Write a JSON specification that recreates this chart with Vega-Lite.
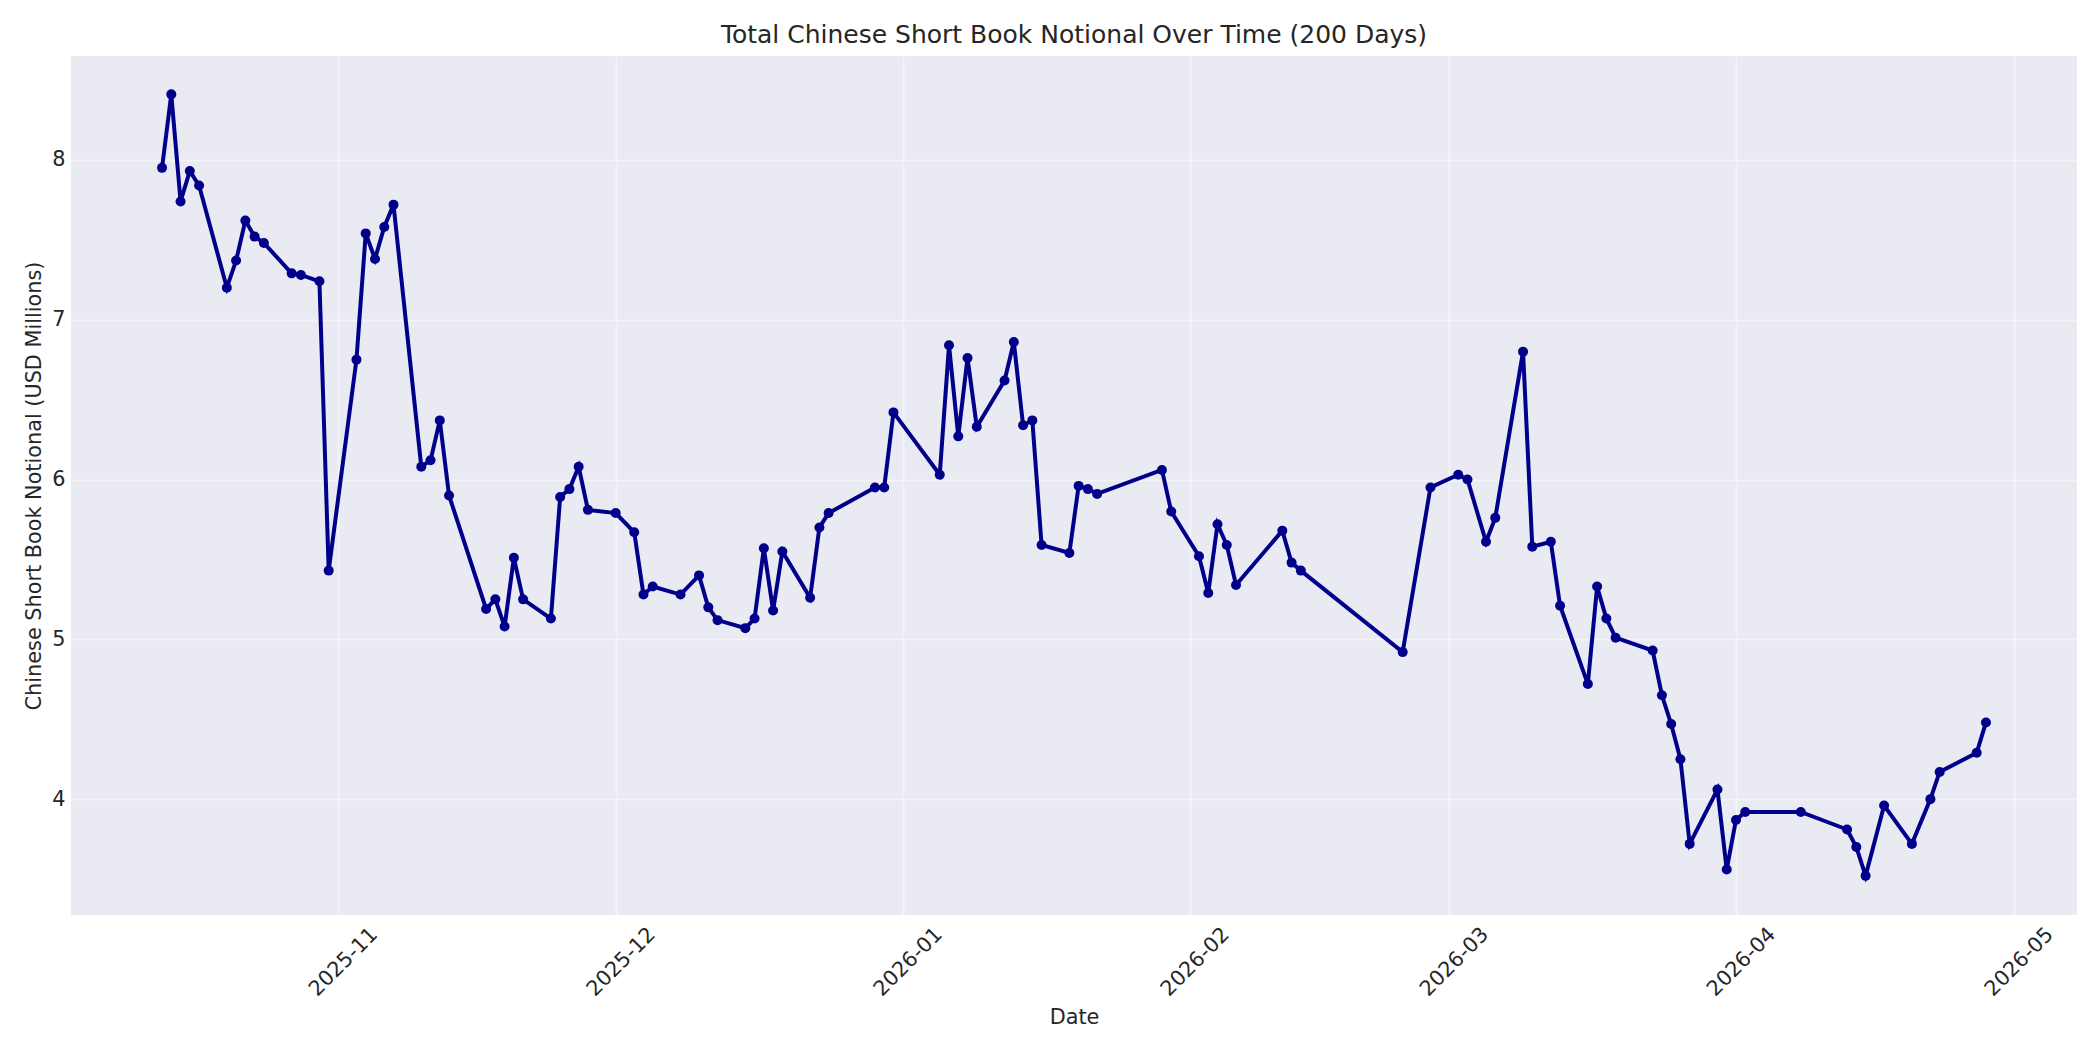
{
  "$schema": "https://vega.github.io/schema/vega-lite/v6.json",
  "autosize": {"type": "none"},
  "padding": {"left": 71, "top": 56, "right": 23, "bottom": 135},
  "width": 2006,
  "height": 859,
  "background": "white",
  "title": {
    "text": "Total Chinese Short Book Notional Over Time (200 Days)",
    "fontSize": 25,
    "font": "DejaVu Sans",
    "fontWeight": "normal",
    "color": "#262626",
    "anchor": "middle",
    "baseline": "bottom",
    "offset": -17
  },
  "data": {
    "values": [
      {"date": "2025-10-13", "notional": 7.95},
      {"date": "2025-10-14", "notional": 8.41},
      {"date": "2025-10-15", "notional": 7.74},
      {"date": "2025-10-16", "notional": 7.93},
      {"date": "2025-10-17", "notional": 7.84},
      {"date": "2025-10-20", "notional": 7.20},
      {"date": "2025-10-21", "notional": 7.37},
      {"date": "2025-10-22", "notional": 7.62},
      {"date": "2025-10-23", "notional": 7.52},
      {"date": "2025-10-24", "notional": 7.48},
      {"date": "2025-10-27", "notional": 7.29},
      {"date": "2025-10-28", "notional": 7.28},
      {"date": "2025-10-30", "notional": 7.24},
      {"date": "2025-10-31", "notional": 5.43},
      {"date": "2025-11-03", "notional": 6.75},
      {"date": "2025-11-04", "notional": 7.54},
      {"date": "2025-11-05", "notional": 7.38},
      {"date": "2025-11-06", "notional": 7.58},
      {"date": "2025-11-07", "notional": 7.72},
      {"date": "2025-11-10", "notional": 6.08},
      {"date": "2025-11-11", "notional": 6.12},
      {"date": "2025-11-12", "notional": 6.37},
      {"date": "2025-11-13", "notional": 5.90},
      {"date": "2025-11-17", "notional": 5.19},
      {"date": "2025-11-18", "notional": 5.25},
      {"date": "2025-11-19", "notional": 5.08},
      {"date": "2025-11-20", "notional": 5.51},
      {"date": "2025-11-21", "notional": 5.25},
      {"date": "2025-11-24", "notional": 5.13},
      {"date": "2025-11-25", "notional": 5.89},
      {"date": "2025-11-26", "notional": 5.94},
      {"date": "2025-11-27", "notional": 6.08},
      {"date": "2025-11-28", "notional": 5.81},
      {"date": "2025-12-01", "notional": 5.79},
      {"date": "2025-12-03", "notional": 5.67},
      {"date": "2025-12-04", "notional": 5.28},
      {"date": "2025-12-05", "notional": 5.33},
      {"date": "2025-12-08", "notional": 5.28},
      {"date": "2025-12-10", "notional": 5.40},
      {"date": "2025-12-11", "notional": 5.20},
      {"date": "2025-12-12", "notional": 5.12},
      {"date": "2025-12-15", "notional": 5.07},
      {"date": "2025-12-16", "notional": 5.13},
      {"date": "2025-12-17", "notional": 5.57},
      {"date": "2025-12-18", "notional": 5.18},
      {"date": "2025-12-19", "notional": 5.55},
      {"date": "2025-12-22", "notional": 5.26},
      {"date": "2025-12-23", "notional": 5.70},
      {"date": "2025-12-24", "notional": 5.79},
      {"date": "2025-12-29", "notional": 5.95},
      {"date": "2025-12-30", "notional": 5.95},
      {"date": "2025-12-31", "notional": 6.42},
      {"date": "2026-01-05", "notional": 6.03},
      {"date": "2026-01-06", "notional": 6.84},
      {"date": "2026-01-07", "notional": 6.27},
      {"date": "2026-01-08", "notional": 6.76},
      {"date": "2026-01-09", "notional": 6.33},
      {"date": "2026-01-12", "notional": 6.62},
      {"date": "2026-01-13", "notional": 6.86},
      {"date": "2026-01-14", "notional": 6.34},
      {"date": "2026-01-15", "notional": 6.37},
      {"date": "2026-01-16", "notional": 5.59},
      {"date": "2026-01-19", "notional": 5.54},
      {"date": "2026-01-20", "notional": 5.96},
      {"date": "2026-01-21", "notional": 5.94},
      {"date": "2026-01-22", "notional": 5.91},
      {"date": "2026-01-29", "notional": 6.06},
      {"date": "2026-01-30", "notional": 5.80},
      {"date": "2026-02-02", "notional": 5.52},
      {"date": "2026-02-03", "notional": 5.29},
      {"date": "2026-02-04", "notional": 5.72},
      {"date": "2026-02-05", "notional": 5.59},
      {"date": "2026-02-06", "notional": 5.34},
      {"date": "2026-02-11", "notional": 5.68},
      {"date": "2026-02-12", "notional": 5.48},
      {"date": "2026-02-13", "notional": 5.43},
      {"date": "2026-02-24", "notional": 4.92},
      {"date": "2026-02-27", "notional": 5.95},
      {"date": "2026-03-02", "notional": 6.03},
      {"date": "2026-03-03", "notional": 6.00},
      {"date": "2026-03-05", "notional": 5.61},
      {"date": "2026-03-06", "notional": 5.76},
      {"date": "2026-03-09", "notional": 6.80},
      {"date": "2026-03-10", "notional": 5.58},
      {"date": "2026-03-12", "notional": 5.61},
      {"date": "2026-03-13", "notional": 5.21},
      {"date": "2026-03-16", "notional": 4.72},
      {"date": "2026-03-17", "notional": 5.33},
      {"date": "2026-03-18", "notional": 5.13},
      {"date": "2026-03-19", "notional": 5.01},
      {"date": "2026-03-23", "notional": 4.93},
      {"date": "2026-03-24", "notional": 4.65},
      {"date": "2026-03-25", "notional": 4.47},
      {"date": "2026-03-26", "notional": 4.25},
      {"date": "2026-03-27", "notional": 3.72},
      {"date": "2026-03-30", "notional": 4.06},
      {"date": "2026-03-31", "notional": 3.56},
      {"date": "2026-04-01", "notional": 3.87},
      {"date": "2026-04-02", "notional": 3.92},
      {"date": "2026-04-08", "notional": 3.92},
      {"date": "2026-04-13", "notional": 3.81},
      {"date": "2026-04-14", "notional": 3.70},
      {"date": "2026-04-15", "notional": 3.52},
      {"date": "2026-04-17", "notional": 3.96},
      {"date": "2026-04-20", "notional": 3.72},
      {"date": "2026-04-22", "notional": 4.00},
      {"date": "2026-04-23", "notional": 4.17},
      {"date": "2026-04-27", "notional": 4.29},
      {"date": "2026-04-28", "notional": 4.48}
    ]
  },
  "mark": {
    "type": "line",
    "color": "#00008B",
    "strokeWidth": 4,
    "point": {"filled": true, "size": 100, "color": "#00008B", "opacity": 1}
  },
  "encoding": {
    "x": {
      "field": "date",
      "type": "temporal",
      "title": "Date",
      "scale": {
        "type": "utc",
        "domain": [
          {"year": 2025, "month": 10, "date": 3, "hours": 4, "utc": true},
          {"year": 2026, "month": 5, "date": 7, "hours": 20, "utc": true}
        ]
      },
      "axis": {
        "format": "%Y-%m",
        "tickCount": {"interval": "month", "step": 1},
        "labelAngle": -45,
        "labelAlign": "right",
        "labelBaseline": "middle",
        "labelOffset": 36,
        "labelPadding": 16,
        "titlePadding": 8
      }
    },
    "y": {
      "field": "notional",
      "type": "quantitative",
      "title": "Chinese Short Book Notional (USD Millions)",
      "scale": {"domain": [3.275, 8.65], "nice": false, "zero": false},
      "axis": {"values": [4, 5, 6, 7, 8], "labelPadding": 6, "titlePadding": 7}
    }
  },
  "config": {
    "font": "DejaVu Sans",
    "view": {"fill": "#EAEAF2", "stroke": null},
    "axis": {
      "grid": true,
      "gridColor": "#FFFFFF",
      "gridOpacity": 0.45,
      "gridWidth": 2,
      "domain": false,
      "ticks": false,
      "tickSize": 0,
      "labelFont": "DejaVu Sans",
      "labelFontSize": 20.8,
      "labelColor": "#262626",
      "titleFont": "DejaVu Sans",
      "titleFontSize": 20.8,
      "titleFontWeight": "normal",
      "titleColor": "#262626"
    }
  }
}
